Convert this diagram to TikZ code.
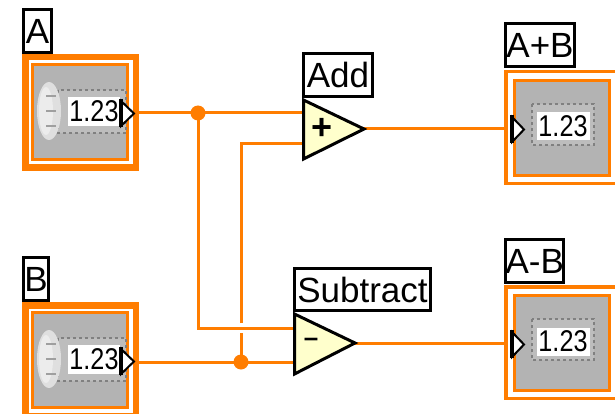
\documentclass[tikz,border=0pt]{standalone}
\usepackage{fontspec}
\setmainfont{Liberation Sans}
\definecolor{wire}{HTML}{FF7D00}
\definecolor{panel}{HTML}{B3B3B3}
\definecolor{band}{HTML}{BDBDBD}
\definecolor{prim}{HTML}{FFFFCC}
\tikzset{
  lbl/.style={draw=black,line width=3pt,fill=white,inner sep=0pt,outer sep=0pt,font=\fontsize{35}{35}\selectfont,anchor=north west},
  outerthick/.style={draw=wire,line width=6.5pt,fill=white},
  outerthin/.style={draw=wire,line width=3.5pt,fill=white},
  innerbox/.style={draw=wire,line width=3pt,fill=panel,outer sep=0pt},
  recess/.style={draw=gray,line width=2.5pt,dash pattern=on 3pt off 3pt,fill=band},
  valuebox/.style={fill=white,inner sep=0pt,outer sep=0pt},
  valtext/.style={font=\fontsize{30}{30}\selectfont,inner sep=0pt,xscale=.84},
  term/.style={draw=black,line width=2pt,fill=white,line join=miter},
  termbar/.style={draw=black,line width=4pt},
  prima/.style={draw=black,line width=3pt,fill=prim,line join=miter},
  wirepath/.style={draw=wire,line width=3pt},
  junction/.style={circle,fill=wire,inner sep=0pt,minimum size=15pt},
  knob/.style={fill=gray!25},
  knobmark/.style={draw=gray!75,line width=2pt},
}
\newcommand{\ctrlblock}[2]{
  \begin{scope}[shift={(0,#2)}]
    \path[outerthick] (25.25,3.25) rectangle (135.75,113.75);
    \node[innerbox,anchor=north west,minimum width=95pt,minimum height=95pt,inner sep=0pt] (#1) at (32.5,10.5) {};
    \path[recess] (58,36) rectangle (126,79);
    \node[valuebox,anchor=north west,minimum width=52pt,minimum height=29pt] (#1v) at (68,43) {};
    \node[valtext] at (94,57.5) {1.23};
    \path[knob] (49,57) ellipse (12 and 29);
    \fill[white!85!gray] (46,57) ellipse (7 and 24);
    \foreach \yy in {42,57,72} \draw[knobmark] (46,\yy) -- (56,\yy);
    \path[term] (121,47) -- (134,59.5) -- (121,72) -- cycle;
    \draw[termbar] (121,45) -- (121,73);
    \coordinate (#1out) at (139,59);
  \end{scope}
}
\newcommand{\indblock}[2]{
  \begin{scope}[shift={(0,#2)}]
    \path[outerthin] (505.75,1.75) rectangle (640,113.25);
    \node[innerbox,anchor=north west,minimum width=95pt,minimum height=95pt,inner sep=0pt] (#1) at (514.5,10.5) {};
    \path[recess] (532,34) rectangle (594,75);
    \node[valuebox,anchor=north west,minimum width=53pt,minimum height=28pt] (#1v) at (537,42.5) {};
    \node[valtext] at (563,56.5) {1.23};
    \path[term] (512,47) -- (524,59.5) -- (512,72) -- cycle;
    \draw[termbar] (512,45) -- (512,73);
    \coordinate (#1in) at (504,59);
  \end{scope}
}
\begin{document}
\begin{tikzpicture}[x=1pt,y=-1pt]
\useasboundingbox (0,0) rectangle (615,414);
\clip (0,0) rectangle (615,414);
\fill[white] (0,0) rectangle (615,414);

\ctrlblock{ctlA}{54}
\ctrlblock{ctlB}{302}
\indblock{indS}{70}
\indblock{indD}{285}

\node[lbl,minimum width=28pt,minimum height=43pt] (lblA) at (23.5,9.5) {A};
\node[lbl,minimum width=25pt,minimum height=43pt] (lblB) at (23.5,257.5) {B};
\node[lbl,minimum width=69pt,minimum height=43pt] (lblAdd) at (303.5,53.5) {Add};
\node[lbl,minimum width=136pt,minimum height=42pt] (lblSub) at (294.5,268.5) {Subtract};
\node[lbl,minimum width=69pt,minimum height=43pt] (lblS) at (505.5,23.5) {A+B};
\node[lbl,minimum width=57pt,minimum height=43pt] (lblD) at (505.5,239.5) {A-B};

\coordinate (addT) at (303.5,100);
\coordinate (addB) at (303.5,159);
\coordinate (addO) at (364,129);
\coordinate (addI1) at (303,113);
\coordinate (addI2) at (303,144);
\coordinate (subT) at (294.5,314);
\coordinate (subB) at (294.5,374);
\coordinate (subO) at (355,343);
\coordinate (subI1) at (294,328);
\coordinate (subI2) at (294,362);

\coordinate (jA) at (198,113);
\coordinate (jB) at (241,362);
\coordinate (corner1) at (198,328);
\coordinate (corner2) at (241,144);
\coordinate (gapT) at (241,323);
\coordinate (gapB) at (241,333);

\draw[wirepath] (ctlAout) -- (addI1);
\draw[wirepath] (ctlBout |- subI2) -- (subI2);
\draw[wirepath] (jA) -- (corner1) -- (subI1);
\draw[wirepath] (jB) -- (gapB);
\draw[wirepath] (gapT) -- (corner2) -- (addI2);
\draw[wirepath] (addO) -- (indSin |- addO);
\draw[wirepath] (subO) -- (indDin |- subO);
\node[junction] (nodeA) at (jA) {};
\node[junction] (nodeB) at (jB) {};

\path[prima] (addT) -- (addO) -- (addB) -- cycle;
\path[prima] (subT) -- (subO) -- (subB) -- cycle;
\node[font=\bfseries\fontsize{36}{36}\selectfont,inner sep=0pt] (plus) at (322,129) {+};
\node[font=\bfseries\fontsize{26}{26}\selectfont,inner sep=0pt] (minus) at (311,342) {–};
\end{tikzpicture}
\end{document}
